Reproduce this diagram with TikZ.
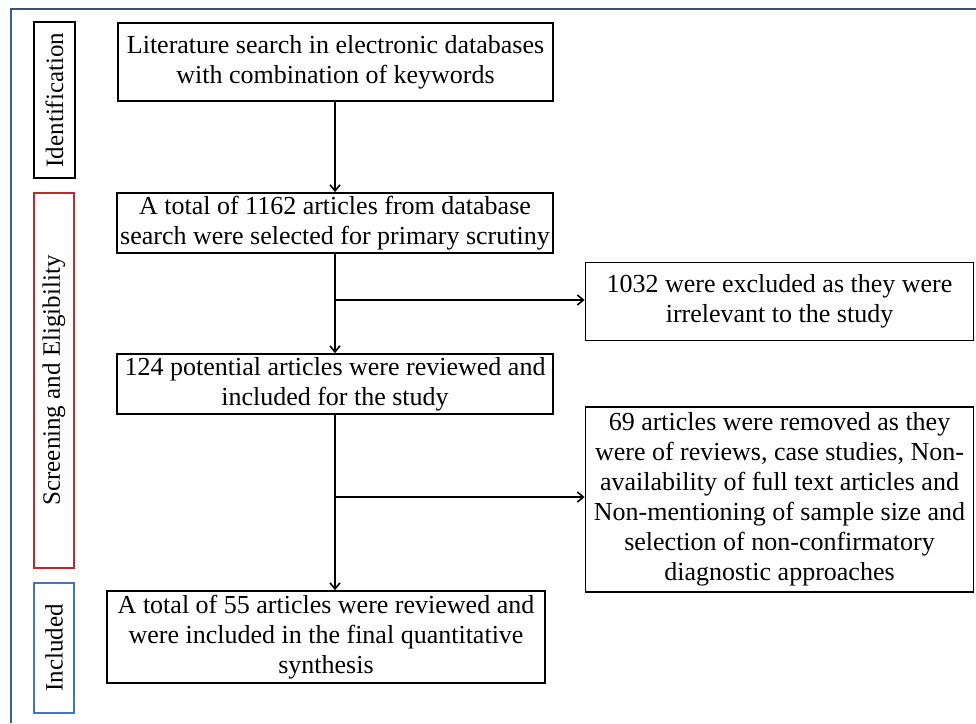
\documentclass[tikz,border=0pt]{standalone}
\usepackage{fontspec}
\setmainfont{Liberation Serif}
\usetikzlibrary{arrows.meta}
\definecolor{frameblue}{HTML}{2E62A8}
\definecolor{frametop}{HTML}{3D5272}
\definecolor{scrred}{HTML}{C0282D}
\definecolor{incblue}{HTML}{4472C4}
\begin{document}
\begin{tikzpicture}[x=1pt,y=-1pt,
  mainbox/.style={draw=black, line width=1.8pt, rectangle, align=center, inner sep=2pt,
    font=\fontsize{26}{30}\selectfont},
  sidebox/.style={draw, line width=1.3pt, rectangle, rotate=90, align=center, inner sep=0pt,
    font=\fontsize{25}{28}\selectfont},
  arr/.style={line width=1.6pt, -{Straight Barb[length=6pt,width=10pt,line width=1.6pt]}},
  ln/.style={line width=1.6pt}]
\useasboundingbox (0,0) rectangle (976,723);
\fill[white] (0,0) rectangle (976,723);
% outer frame
\draw[frameblue, line width=2.2pt] (11,9) -- (11,723);
\draw[frametop, line width=2.2pt] (10,9) -- (976,9);
% side labels
\node[sidebox, minimum width=156pt, minimum height=41pt] (sid) at (54.5,100) {Identification};
\node[sidebox, draw=scrred, minimum width=375pt, minimum height=40pt] (sse) at (54,380.5) {Screening and Eligibility};
\node[sidebox, draw=incblue, minimum width=130pt, minimum height=40pt] (sin) at (54,648) {Included};
% main boxes
\node[mainbox, minimum width=435pt, minimum height=78pt] (b1) at (335.5,62)
  {Literature search in electronic databases\\with combination of keywords};
\node[mainbox, minimum width=436pt, minimum height=60pt] (b2) at (335,223)
  {A total of 1162 articles from database\\search were selected for primary scrutiny};
\node[mainbox, minimum width=388pt, minimum height=78pt] (b3) at (779.5,301.5)
  {1032 were excluded as they were\\irrelevant to the study};
\node[mainbox, minimum width=436pt, minimum height=60pt] (b4) at (335,384)
  {124 potential articles were reviewed and\\included for the study};
\node[mainbox, minimum width=388pt, minimum height=185pt] (b5) at (779.5,499.5)
  {69 articles were removed as they\\were of reviews, case studies, Non-\\availability of full text articles and\\Non-mentioning of sample size and\\selection of non-confirmatory\\diagnostic approaches};
\node[mainbox, minimum width=438pt, minimum height=92pt] (b6) at (326,637)
  {A total of 55 articles were reviewed and\\were included in the final quantitative\\synthesis};
% connectors
\draw[arr] (b1.south -| 335,0) -- (b2.north -| 335,0);
\draw[arr] (b2.south) -- (b4.north);
\coordinate (j1) at (335,300);
\draw[arr] (j1) -- (j1 -| b3.west);
\draw[arr] (b4.south) -- (b4.south |- b6.north);
\coordinate (j2) at (335,497);
\draw[arr] (j2) -- (j2 -| b5.west);
\end{tikzpicture}
\end{document}
